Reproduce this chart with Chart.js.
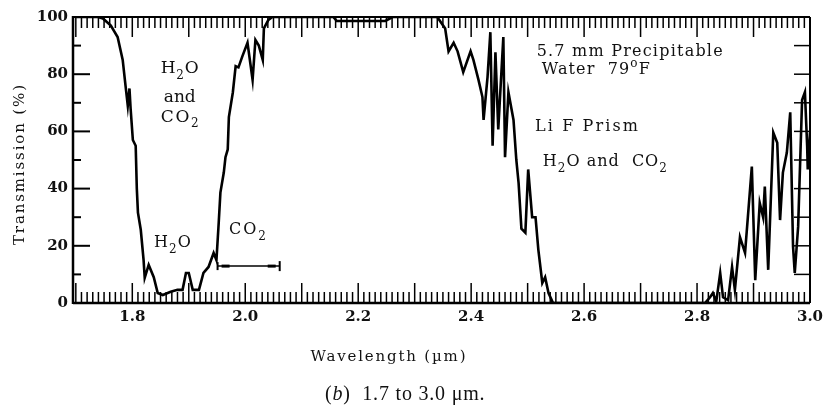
<!DOCTYPE html>
<html>
<head>
<meta charset="utf-8">
<script src="https://cdn.jsdelivr.net/npm/chart.js@4.4.0/dist/chart.umd.min.js"></script>
<style>
  html, body { margin: 0; padding: 0; background: #fff; }
  #wrap { width: 825px; height: 412px; }
</style>
</head>
<body>
<div id="wrap"><canvas id="c" width="825" height="412"></canvas></div>
<script>
// spectrum, wavelength in um, transmission in %
const wavelength = [
  1.700, 1.739, 1.748, 1.762, 1.774, 1.783, 1.788, 1.792, 1.795, 1.797,
  1.801, 1.806, 1.808, 1.810, 1.815, 1.820, 1.822, 1.829, 1.838, 1.845,
  1.854, 1.868, 1.880, 1.889, 1.895, 1.900, 1.907, 1.918, 1.926, 1.935,
  1.944, 1.949, 1.953, 1.956, 1.962, 1.965, 1.969, 1.971, 1.978, 1.983,
  1.988, 1.995, 2.004, 2.013, 2.018, 2.024, 2.031, 2.033, 2.041, 2.048,
  2.156, 2.162, 2.248, 2.261, 2.340, 2.354, 2.360, 2.369, 2.376, 2.386,
  2.399, 2.404, 2.413, 2.420, 2.422, 2.429, 2.434, 2.438, 2.443, 2.448,
  2.457, 2.460, 2.466, 2.475, 2.480, 2.484, 2.489, 2.496, 2.501, 2.508,
  2.514, 2.519, 2.526, 2.531, 2.537, 2.545, 2.814, 2.823, 2.828, 2.834,
  2.841, 2.846, 2.855, 2.862, 2.867, 2.876, 2.885, 2.897, 2.903, 2.911,
  2.917, 2.920, 2.926, 2.935, 2.942, 2.947, 2.952, 2.959, 2.965, 2.970,
  2.973, 2.979, 2.986, 2.991, 2.995, 2.996, 3.000
];
const transmission = [
  100, 100, 99.5, 97, 93, 85, 76, 69, 75, 68,
  57, 55, 40, 31.6, 25.6, 15, 8.8, 13.3, 9, 3.5,
  2.8, 3.9, 4.6, 4.6, 10.5, 10.5, 4.6, 4.6, 10.5, 12.6,
  17.5, 15, 28, 38.6, 45.6, 51, 53.7, 65, 73.6, 82.8,
  82.4, 86.3, 91, 78, 92, 90, 85, 96, 99, 100,
  100, 98.6, 98.6, 100, 100, 96, 88, 91, 88, 80.7,
  88, 85, 78, 72, 64, 79, 94.7, 55, 87.7, 60.7,
  93, 51, 73.7, 64, 50, 42, 26, 24.6, 46.7, 30,
  30, 18.6, 7, 9, 3.5, 0, 0, 2, 3.5, 0.5,
  10.5, 2, 1, 12.6, 4.6, 23, 17.5, 47.7, 8, 35,
  30, 40.7, 11.6, 59.6, 56, 29, 45.6, 52.6, 66.7, 19.6,
  10.5, 26.7, 71, 73.7, 54.7, 46.7, 59.6
];
const xTicks = [1.8, 2.0, 2.2, 2.4, 2.6, 2.8, 3.0];
const yTicks = [0, 20, 40, 60, 80, 100];
const co2Band = [1.951, 2.061];   // extent of the CO2 bar
const co2BandLevel = 12.9;

const SERIF = '"DejaVu Serif", serif';

// draw text stretched to a given width with letter spacing
function fitText(ctx, text, x, y, width, align) {
  ctx.letterSpacing = '0px';
  const natural = ctx.measureText(text).width;
  const n = [...text].length;
  const gap = n > 1 ? (width - natural) / (n - 1) : 0;
  let left = x;
  if (align === 'center') left = x - width / 2;
  if (align === 'right') left = x - width;
  ctx.textAlign = 'left';
  ctx.letterSpacing = gap + 'px';
  ctx.fillText(text, left, y);
  ctx.letterSpacing = '0px';
}

// segments: [text, 0 normal | 1 subscript | 2 superscript]
function richText(ctx, segs, x, y, size, width, align) {
  const fontFor = s => (s[1] ? Math.round(size * 0.72) : size) + 'px ' + SERIF;
  ctx.letterSpacing = '0px';
  let natural = 0, count = 0;
  const widths = segs.map(s => {
    ctx.font = fontFor(s);
    const w = ctx.measureText(s[0]).width;
    natural += w;
    count += [...s[0]].length;
    return w;
  });
  const gap = width && count > 1 ? (width - natural) / (count - 1) : 0;
  let cx = align === 'center' ? x - (width || natural) / 2 : x;
  ctx.textAlign = 'left';
  ctx.textBaseline = 'middle';
  ctx.letterSpacing = gap + 'px';
  segs.forEach((s, i) => {
    ctx.font = fontFor(s);
    const dy = s[1] === 1 ? size * 0.42 : s[1] === 2 ? -size * 0.38 : 0;
    ctx.fillText(s[0], cx, y + dy);
    cx += widths[i] + gap * [...s[0]].length;
  });
  ctx.letterSpacing = '0px';
}

const framePlugin = {
  id: 'frame',
  beforeDatasetsDraw(chart) {
    const { ctx, chartArea: a, scales: { x, y } } = chart;
    ctx.save();
    ctx.strokeStyle = '#000';
    const line = (x1, y1, x2, y2) => { ctx.beginPath(); ctx.moveTo(x1, y1); ctx.lineTo(x2, y2); ctx.stroke(); };

    // dense wavelength ticks, top and bottom, pointing inward
    ctx.lineWidth = 1.5;
    for (let k = 170; k <= 300; k++) {
      const px = x.getPixelForValue(k / 100);
      const len = k % 10 === 0 ? 20 : 11;
      line(px, a.bottom, px, a.bottom - len);
      line(px, a.top, px, a.top + len);
    }
    // transmission ticks
    ctx.lineWidth = 2;
    for (let v = 0; v <= 100; v += 10) {
      const py = y.getPixelForValue(v);
      line(a.left, py, a.left + (v % 20 === 0 ? 17 : 8), py);
      if (v > 0 && v < 100) {
        ctx.lineWidth = 1.5;
        line(a.right, py, a.right - 16, py);
        ctx.lineWidth = 2;
      }
    }
    // box
    ctx.lineWidth = 2;
    line(a.left, a.top, a.right, a.top);
    line(a.right, a.top, a.right, a.bottom);
    ctx.lineWidth = 2.5;
    line(a.left, a.top - 1, a.left, a.bottom + 1);
    line(a.left, a.bottom, a.right, a.bottom);

    // CO2 band bar
    const bx1 = x.getPixelForValue(co2Band[0]);
    const bx2 = x.getPixelForValue(co2Band[1]);
    const by = y.getPixelForValue(co2BandLevel);
    ctx.lineWidth = 1.5;
    line(bx1, by, bx2, by);
    ctx.lineWidth = 2;
    line(bx2, by - 5, bx2, by + 5);
    line(bx1, by - 4, bx1, by + 4);
    ctx.fillStyle = '#000';
    ctx.fillRect(bx1 + 4, by - 1.5, 8, 3);
    ctx.fillRect(bx2 - 12, by - 1.5, 8, 3);
    ctx.restore();
  },
  afterDraw(chart) {
    const { ctx, chartArea: a, scales: { x, y } } = chart;
    ctx.save();
    ctx.fillStyle = '#111';
    ctx.textBaseline = 'middle';

    // tick labels
    ctx.font = 'bold 15px ' + SERIF;
    ctx.textAlign = 'right';
    yTicks.forEach(v => ctx.fillText(String(v), a.left - 5, y.getPixelForValue(v)));
    ctx.textAlign = 'center';
    xTicks.forEach(v => ctx.fillText(v.toFixed(1), x.getPixelForValue(v), a.bottom + 14));

    // axis titles
    ctx.font = '15px ' + SERIF;
    fitText(ctx, 'Wavelength (\u00b5m)', 388, 357, 155, 'center');
    ctx.save();
    ctx.translate(20, 165);
    ctx.rotate(-Math.PI / 2);
    fitText(ctx, 'Transmission (%)', 0, 0, 160, 'center');
    ctx.restore();

    // caption
    ctx.font = '20px "Liberation Serif", serif';
    ctx.letterSpacing = '0.8px';
    ctx.textAlign = 'left';
    const capL = 325, capY = 395;
    ctx.fillText('(', capL, capY);
    const wOpen = ctx.measureText('(').width;
    ctx.font = 'italic 20px "Liberation Serif", serif';
    ctx.fillText('b', capL + wOpen, capY);
    const wB = ctx.measureText('b').width;
    ctx.font = '20px "Liberation Serif", serif';
    ctx.fillText(')  1.7 to 3.0 \u03bcm.', capL + wOpen + wB, capY);
    ctx.letterSpacing = '0px';

    // annotations inside the plot
    const px = v => x.getPixelForValue(v);
    const py = v => y.getPixelForValue(v);
    richText(ctx, [['H', 0], ['2', 1], ['O', 0]], px(1.884), py(81.8), 17, 38, 'center');
    richText(ctx, [['and', 0]], px(1.884), py(72), 17, 32, 'center');
    richText(ctx, [['CO', 0], ['2', 1]], px(1.884), py(65), 17, 38, 'center');
    richText(ctx, [['H', 0], ['2', 1], ['O', 0]], px(1.871), py(21), 16, 37, 'center');
    richText(ctx, [['CO', 0], ['2', 1]], px(2.004), py(25.5), 16, 37, 'center');

    richText(ctx, [['5.7 mm Precipitable', 0]], px(2.516), py(87.8), 16, 186, 'left');
    richText(ctx, [['Water  79', 0], ['o', 2], ['F', 0]], px(2.525), py(81.5), 16, 108, 'left');
    richText(ctx, [['Li F Prism', 0]], px(2.513), py(61.5), 16, 103, 'left');
    richText(ctx, [['H', 0], ['2', 1], ['O and  CO', 0], ['2', 1]], px(2.527), py(49.3), 16, 124, 'left');
    ctx.restore();
  }
};

new Chart(document.getElementById('c'), {
  type: 'line',
  data: {
    datasets: [{
      data: wavelength.map((w, i) => ({ x: w, y: transmission[i] })),
      borderColor: '#000',
      borderWidth: 2.6,
      pointRadius: 0,
      tension: 0,
      fill: false
    }]
  },
  options: {
    responsive: false,
    animation: false,
    events: [],
    layout: { padding: { left: 73, top: 17, right: 15, bottom: 109 } },
    scales: {
      x: { type: 'linear', min: 1.695, max: 3.0, display: false },
      y: { type: 'linear', min: 0, max: 100, display: false }
    },
    plugins: { legend: { display: false }, tooltip: { enabled: false } }
  },
  plugins: [framePlugin]
});
</script>
</body>
</html>
